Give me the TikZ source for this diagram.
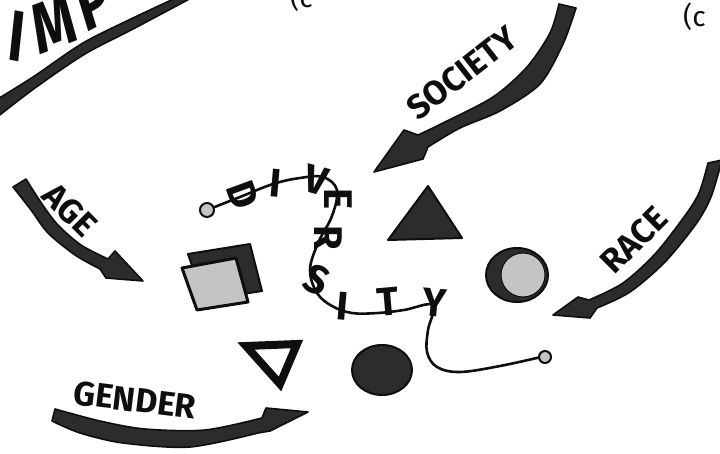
\documentclass[tikz,border=0pt]{standalone}
\usepackage{fontspec}
\setsansfont{Fira Sans}
\usetikzlibrary{arrows.meta}
\definecolor{ink}{HTML}{0E0E0E}
\definecolor{tone}{HTML}{2C2C2C}
\definecolor{pale}{HTML}{C4C4C4}
\tikzset{
  word/.style={font=\sffamily\bfseries\fontsize{34}{34}\selectfont, text=ink, inner sep=0pt},
  letter/.style={font=\sffamily\bfseries\fontsize{40}{40}\selectfont, text=ink, inner sep=0pt},
  big/.style={font=\sffamily\bfseries\fontsize{72}{72}\selectfont, text=ink, inner sep=0pt, xscale=0.75},
  note/.style={font=\sffamily\fontsize{28}{28}\selectfont, text=ink, inner sep=0pt},
  band/.style={fill=tone, draw=ink, line width=1.6pt, line join=round},
  dark/.style={fill=tone, draw=ink, line width=2pt, line join=round},
  light/.style={fill=pale, draw=ink, line width=3pt, line join=round},
  ring/.style={fill=white, draw=ink, line width=8pt},
  thread/.style={draw=ink, line width=2.6pt, line cap=round, line join=round},
  knot/.style={fill=pale, draw=ink, line width=2pt},
}
\begin{document}
\begin{tikzpicture}[x=1pt, y=-1pt]
\useasboundingbox (0,0) rectangle (720,454);
\clip (0,0) rectangle (720,454);

% ---------------- swooshes ----------------
% top left, running off the page
\filldraw[band] plot[smooth] coordinates {(-4,100) (33,77) (83,43) (133,18) (180,-4)}
  -- plot[smooth] coordinates {(195,-4) (135,28) (85,54) (35,88) (-4,118)} -- cycle;
% society
\filldraw[band] plot[smooth] coordinates {(559,4) (550,33) (527,67) (493,97) (443,123) (418,135)}
  -- (404,130) -- (374,172) -- (423,159)
  -- plot[smooth] coordinates {(428,147) (460,128) (500,111) (540,84) (563,44) (576,8)} -- cycle;
% age
\filldraw[band] plot[smooth] coordinates {(26,179) (42,204) (58,225) (81,245) (108,259)}
  -- (115,251) -- (143,281) -- (106,278)
  -- plot[smooth] coordinates {(100,269) (75,255) (48,233) (31,210) (13,187)} -- cycle;
% race
\filldraw[band] plot[smooth] coordinates {(708,163) (699,193) (684,217) (655,254) (623,283) (589,300)}
  -- (578,297) -- (553,315) -- (590,318)
  -- plot[smooth] coordinates {(597,308) (630,292) (665,262) (696,224) (711,197) (722,160)} -- cycle;
% gender
\filldraw[band] plot[smooth] coordinates {(55,409) (100,421) (145,429) (205,430) (262,418)}
  -- (266,408) -- (308,412) -- (270,431)
  -- plot[smooth] coordinates {(258,433) (190,447) (123,443) (80,433) (52,421)} -- cycle;

% ---------------- shapes ----------------
\filldraw[dark] (188,254) -- (250,244) -- (262,291) -- (204,300) -- cycle;
\filldraw[light] (182,268) -- (236,258) -- (248,302) -- (197,310) -- cycle;
\filldraw[dark] (428,186) -- (462,238) -- (388,240) -- cycle;
\filldraw[dark] (517,275) ellipse [x radius=31, y radius=27];
\filldraw[light, line width=1pt] (523,275) circle [radius=22];
\filldraw[ring] (246,346) -- (297,344) -- (280,384) -- cycle;
\filldraw[dark] (382,370) ellipse [x radius=30, y radius=25];

% ---------------- the thread ----------------
\draw[thread] plot[smooth, tension=0.6] coordinates {(207,210) (240,197) (273,184) (300,178)
  (323,177) (337,190) (332,216) (318,243) (310,270) (317,293) (332,306) (352,313)
  (378,313) (404,310) (433,305) (428,330) (427,352) (437,367) (460,372) (500,366) (541,357)};
\filldraw[knot] (207,210) circle [radius=7];
\filldraw[knot] (545,357) circle [radius=6];
\foreach \ch/\x/\y/\a [count=\k] in {D/243/195/-70, I/276/183/-5, V/316/180/-15,
    E/338/199/-90, R/328/238/-90, S/317/280/-25, I/343/306/-5, T/388/302/5, Y/435/303/-5}
  \node[letter, rotate=\a] (div\k) at (\x,\y) {\ch};

% ---------------- words ----------------
% the big word, cut by the top edge
\foreach \ch/\x/\y/\a [count=\k] in {I/17/36/-8, M/54/24/16, P/94/2/22}
  \node[big, rotate=\a] (imp\k) at (\x,\y) {\ch};
\node[note, anchor=base west] (cleft) at (290,8) {(c};
\node[note, anchor=base west] (cright) at (683,27) {(c};
\node[word, rotate=38] (society) at (462,73) {SOCIETY};
\node[word, rotate=-45] (age) at (70,210) {AGE};
\node[word, rotate=45] (race) at (634,240) {RACE};
\node[word, rotate=-7] (gender) at (135,400) {GENDER};

\end{tikzpicture}
\end{document}
